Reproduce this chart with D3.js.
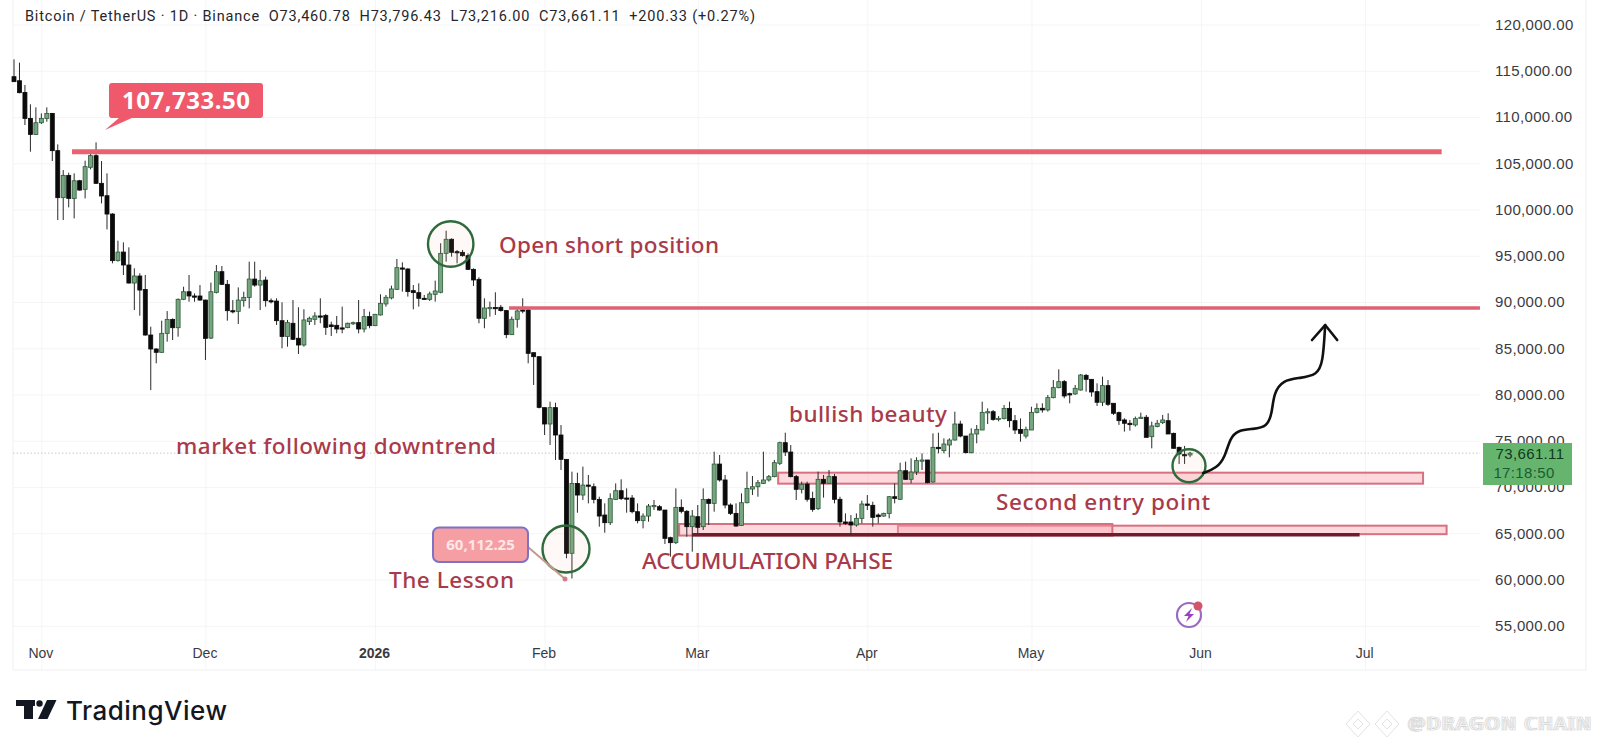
<!DOCTYPE html>
<html>
<head>
<meta charset="utf-8">
<title>BTC / USDT 1D</title>
<script src="https://cdn.jsdelivr.net/npm/d3@7"></script>
<style>
    html, body { margin: 0; padding: 0; background: #fff; }
    svg { display: block; }
    text { font-family: "Noto Sans", "Open Sans", sans-serif; }
</style>
</head>
<body>
<div id="chart"></div>
<script>
// Daily candles, prices in thousands of USDT, first candle is 27 Oct 2025
const firstDay = Date.UTC(2025, 9, 27);

const opens = [
    114.36, 113.92, 112.66, 109.85, 108.12, 109.38, 109.85, 110.39, 106.36, 101.28,
    103.69, 101.2, 103.11, 102.18, 104.56, 105.82, 102.83, 101.49, 99.51, 94.47,
    95.4, 94.0, 92.05, 92.81, 91.36, 86.43, 84.92, 84.56, 86.61, 88.12,
    87.22, 90.29, 91.11, 90.65, 90.65, 90.21, 86.1, 91.04, 93.28, 91.91,
    89.06, 88.99, 90.14, 90.5, 92.48, 91.83, 92.37, 90.14, 90.1, 87.98,
    86.26, 87.7, 86.08, 85.35, 87.88, 88.13, 88.49, 88.53, 87.52, 87.48,
    87.2, 87.23, 87.7, 87.77, 87.08, 88.42, 87.44, 88.6, 89.79, 90.44,
    91.37, 93.68, 93.57, 91.23, 91.01, 90.4, 90.29, 90.83, 91.05, 95.26,
    96.78, 95.44, 95.37, 95.01, 93.53, 92.45, 88.24, 89.35, 89.4, 89.43,
    89.07, 86.47, 88.13, 89.14, 89.14, 84.52, 84.09, 78.58, 76.81, 78.58,
    75.62, 72.99, 62.83, 70.39, 69.13, 70.21, 70.03, 68.66, 66.97, 66.14,
    68.66, 69.6, 68.81, 68.81, 67.33, 66.36, 66.86, 67.94, 67.87, 67.51,
    64.52, 63.98, 67.8, 67.37, 65.71, 66.79, 65.71, 68.66, 68.23, 72.48,
    70.76, 68.05, 67.15, 65.85, 68.3, 69.78, 70.03, 70.39, 70.76, 71.12,
    72.56, 74.79, 73.78, 71.12, 69.75, 70.32, 68.77, 67.66, 70.83, 70.4,
    71.12, 68.67, 66.22, 66.22, 65.89, 66.61, 68.16, 68.02, 66.97, 66.86,
    67.15, 68.95, 68.67, 71.76, 70.83, 71.62, 72.85, 72.92, 70.54, 74.29,
    73.93, 74.54, 75.08, 76.81, 75.51, 73.71, 75.73, 76.16, 78.07, 78.14,
    77.31, 77.39, 78.5, 77.17, 76.23, 75.51, 76.16, 78.07, 78.51, 78.33,
    79.66, 80.74, 81.39, 80.09, 80.06, 80.49, 82.07, 81.64, 80.31, 79.16,
    80.96, 79.05, 78.04, 77.25, 76.89, 76.71, 77.5, 77.54, 75.44, 76.53,
    76.96, 77.17, 75.8, 74.29, 73.5, 73.46
];

const highs = [
    116.23, 115.87, 113.46, 111.37, 111.04, 110.39, 111.04, 110.44, 107.04, 104.27,
    103.98, 103.91, 103.2, 105.28, 106.43, 107.26, 105.24, 103.91, 99.6, 96.63,
    96.45, 95.91, 93.64, 93.1, 92.92, 87.33, 85.0, 87.98, 89.02, 88.23,
    90.39, 91.65, 92.92, 90.93, 91.83, 90.25, 92.09, 94.0, 93.89, 92.38,
    90.21, 91.58, 91.11, 94.36, 94.36, 93.46, 92.74, 90.39, 90.4, 89.97,
    88.06, 90.22, 89.43, 89.21, 88.42, 88.89, 90.4, 88.71, 87.87, 88.49,
    89.5, 87.77, 87.88, 90.22, 89.25, 88.96, 88.71, 90.83, 90.76, 91.77,
    94.65, 94.29, 93.64, 91.84, 92.02, 90.76, 91.12, 92.31, 96.35, 97.71,
    96.89, 95.62, 95.62, 95.26, 93.64, 92.67, 90.4, 90.04, 91.05, 89.68,
    89.14, 88.42, 89.32, 90.4, 89.32, 84.52, 84.09, 78.58, 79.22, 79.11,
    76.7, 72.99, 71.66, 71.55, 72.2, 71.3, 70.39, 68.95, 68.23, 69.31,
    70.39, 70.83, 69.85, 69.13, 68.23, 67.15, 68.16, 68.59, 68.05, 67.51,
    64.63, 69.85, 68.66, 67.51, 67.51, 68.05, 69.85, 68.77, 73.82, 73.46,
    71.3, 68.23, 68.23, 69.31, 71.66, 71.19, 70.76, 73.82, 71.3, 72.92,
    74.9, 75.87, 74.54, 71.3, 70.58, 70.58, 69.49, 71.66, 71.3, 71.84,
    71.4, 68.95, 67.15, 66.97, 67.15, 68.52, 69.13, 68.41, 67.15, 67.22,
    69.03, 70.4, 72.63, 72.74, 73.1, 73.21, 73.64, 72.92, 75.8, 75.87,
    75.26, 75.26, 78.14, 77.17, 75.51, 76.34, 76.7, 79.22, 78.5, 78.32,
    77.68, 78.86, 79.22, 77.78, 77.42, 76.52, 78.68, 79.04, 79.05, 79.95,
    81.57, 82.72, 81.57, 80.2, 81.03, 82.22, 82.22, 81.64, 81.21, 81.93,
    81.57, 79.05, 78.15, 77.43, 77.25, 77.61, 78.04, 77.79, 77.07, 77.25,
    77.79, 77.97, 75.88, 74.36, 74.44, 73.8
];

const lows = [
    113.82, 112.56, 109.13, 106.25, 108.05, 109.24, 109.49, 105.24, 98.86, 98.86,
    100.23, 99.04, 102.05, 101.2, 104.34, 102.75, 100.66, 97.85, 94.18, 94.36,
    92.92, 92.01, 89.13, 88.52, 86.36, 80.48, 83.37, 84.5, 85.71, 85.89,
    86.25, 90.21, 90.03, 90.03, 90.14, 83.73, 86.0, 90.93, 91.83, 87.98,
    88.77, 87.62, 89.49, 89.31, 91.65, 89.13, 89.49, 89.85, 87.52, 84.99,
    85.17, 85.89, 84.38, 85.17, 87.52, 87.52, 87.7, 86.44, 86.33, 86.62,
    86.62, 87.16, 87.52, 86.62, 86.72, 87.16, 87.4, 88.53, 89.5, 90.29,
    91.3, 91.12, 90.58, 89.21, 89.5, 90.22, 90.11, 90.04, 90.94, 94.36,
    94.9, 94.18, 94.9, 93.46, 91.73, 87.7, 87.16, 88.42, 88.6, 88.96,
    86.08, 86.44, 87.23, 88.78, 83.37, 81.03, 78.5, 75.62, 74.54, 72.92,
    71.84, 62.29, 60.11, 67.22, 68.59, 68.23, 68.23, 65.71, 65.06, 65.89,
    68.59, 68.59, 67.22, 67.15, 66.07, 65.53, 66.25, 67.51, 67.44, 63.84,
    62.47, 63.84, 67.15, 64.63, 63.01, 64.99, 65.35, 65.89, 67.33, 70.58,
    67.69, 66.97, 65.71, 65.78, 68.23, 69.13, 68.95, 70.32, 70.58, 71.05,
    72.38, 73.35, 71.04, 68.59, 69.31, 68.41, 67.33, 67.51, 68.85, 70.32,
    68.23, 65.71, 65.89, 64.81, 65.71, 66.07, 67.51, 65.71, 66.07, 66.79,
    66.61, 68.23, 68.59, 70.76, 70.4, 71.3, 71.84, 70.4, 70.47, 73.64,
    73.64, 73.21, 75.01, 75.37, 73.64, 73.64, 74.72, 76.16, 76.81, 77.17,
    77.1, 77.31, 76.45, 75.73, 74.9, 75.26, 76.16, 77.96, 78.04, 78.15,
    79.59, 80.67, 79.59, 79.05, 79.95, 80.42, 80.31, 79.77, 78.76, 78.76,
    78.76, 77.79, 76.71, 75.99, 76.09, 76.53, 77.43, 75.37, 74.18, 76.45,
    76.81, 75.73, 74.18, 72.49, 72.49, 73.22
];

const closes = [
    113.82, 112.63, 109.85, 108.12, 109.38, 109.85, 110.39, 106.36, 101.28, 103.69,
    101.2, 103.11, 102.1, 104.63, 105.82, 102.83, 101.46, 99.51, 94.47, 95.4,
    94.0, 92.05, 92.81, 91.29, 86.43, 84.92, 84.56, 86.61, 88.12, 87.22,
    90.29, 91.11, 90.65, 90.55, 90.21, 86.07, 91.11, 93.28, 91.91, 89.06,
    88.98, 90.21, 90.5, 92.48, 91.83, 92.3, 90.14, 90.07, 87.98, 86.26,
    87.77, 85.97, 85.35, 88.06, 88.24, 88.49, 88.42, 87.26, 87.34, 87.08,
    87.08, 87.7, 87.77, 87.08, 88.42, 87.44, 88.67, 89.86, 90.51, 91.41,
    93.71, 93.57, 91.12, 91.01, 90.4, 90.29, 90.87, 91.19, 95.26, 96.78,
    95.37, 95.34, 95.01, 93.53, 92.38, 88.24, 89.35, 89.4, 89.35, 89.07,
    86.47, 88.13, 89.03, 89.07, 84.45, 84.09, 78.61, 76.81, 78.58, 75.62,
    72.99, 62.83, 70.39, 69.13, 70.21, 70.11, 68.66, 66.86, 66.14, 68.74,
    69.6, 68.74, 68.7, 67.33, 66.36, 66.86, 67.94, 68.0, 67.51, 64.45,
    63.98, 67.8, 67.37, 65.71, 66.86, 65.64, 68.66, 68.23, 72.48, 70.76,
    68.05, 67.15, 65.78, 68.3, 69.85, 70.03, 70.47, 70.76, 71.12, 72.63,
    74.79, 73.78, 71.12, 69.75, 70.29, 68.67, 67.58, 70.83, 70.4, 71.12,
    68.67, 66.22, 66.07, 65.89, 66.61, 68.16, 68.02, 66.72, 66.79, 67.15,
    68.95, 68.77, 71.76, 70.83, 71.62, 72.85, 72.92, 70.47, 74.29, 74.14,
    74.65, 75.08, 76.81, 75.51, 73.71, 75.73, 76.23, 78.07, 78.14, 77.31,
    77.42, 78.5, 77.17, 76.16, 75.8, 76.23, 78.07, 78.5, 78.33, 79.66,
    80.74, 81.39, 79.84, 79.95, 80.67, 82.11, 81.64, 80.27, 79.16, 80.96,
    78.94, 77.97, 77.17, 76.89, 76.74, 77.39, 77.54, 75.37, 76.6, 76.89,
    77.25, 75.73, 74.18, 73.57, 73.46, 73.66
];

const priceTicks = [55, 60, 65, 70, 75, 80, 85, 90, 95, 100, 105, 110, 115, 120];
const monthTicks = [
    Date.UTC(2025, 10, 1), Date.UTC(2025, 11, 1), Date.UTC(2026, 0, 1), Date.UTC(2026, 1, 1),
    Date.UTC(2026, 2, 1), Date.UTC(2026, 3, 1), Date.UTC(2026, 4, 1), Date.UTC(2026, 5, 1),
    Date.UTC(2026, 6, 1)
];
const monthLabels = ['Nov', 'Dec', '2026', 'Feb', 'Mar', 'Apr', 'May', 'Jun', 'Jul'];

// Drawn levels and zones: [first day index, last day index, price]
const redLevels = [[10.6, 261, 106.25, 5, '#e8626f'], [90.5, 268, 89.35, 3.4, '#dd6272']];
const zones = [
    [139.7, 257.6, 71.55, 70.36],
    [161.6, 261.9, 65.82, 64.9],
    [121.6, 200.8, 66.0, 64.75]
];
const darkLevel = [124, 246, 64.85];
const lastPrice = 73.66;

// Hand drawn arrow, day index and price
const arrowDays = [217.4, 219.9, 221.4, 222.3, 223.8, 226.5, 229.1, 230.0, 230.3, 232.0, 235.1, 238.2, 239.3, 239.7];
const arrowPrices = [71.51, 72.05, 73.24, 75.3, 76.16, 76.27, 76.49, 78.0, 80.16, 81.57, 81.78, 82.11, 83.41, 87.51];
const arrowHeadDays = [237.3, 239.7, 241.9];
const arrowHeadPrices = [85.89, 87.51, 85.89];

const notes = [
    ['Open short position', 499, 245, 719],
    ['market following downtrend', 176, 446, 496],
    ['bullish beauty', 789, 414, 947],
    ['Second entry point', 996, 502, 1210],
    ['ACCUMULATION PAHSE', 642, 561, 893],
    ['The Lesson', 389, 580, 514]
];

const width = 1600;
const height = 750;
const pane = { left: 13, right: 1480, top: 0, bottom: 670 };
const dayMs = 86400000;
const dayAt = i => firstDay + i * dayMs;

const x = d3.scaleUtc()
    .domain([dayAt(0), dayAt(240)])
    .range([14, 14 + 240 * 5.47]);
const y = d3.scaleLinear()
    .domain([55, 120])
    .range([625.75, 24.5]);

const svg = d3.select('#chart').append('svg')
    .attr('width', width)
    .attr('height', height)
    .attr('viewBox', `0 0 ${width} ${height}`);

// Grid and axes
const gridColor = '#f5f5f6';
const yAxis = svg.append('g')
    .attr('transform', `translate(${pane.right},0)`)
    .call(d3.axisLeft(y).tickValues(priceTicks).tickSize(pane.right - pane.left).tickFormat(''));
yAxis.select('.domain').remove();
yAxis.selectAll('line').attr('stroke', gridColor);

const xAxis = svg.append('g')
    .attr('transform', `translate(0,${pane.bottom})`)
    .call(d3.axisTop(x).tickValues(monthTicks).tickSize(pane.bottom).tickFormat(''));
xAxis.select('.domain').remove();
xAxis.selectAll('line').attr('stroke', gridColor);

svg.append('path')
    .attr('d', `M${pane.left},0V${pane.bottom}H1586V0`)
    .attr('fill', 'none')
    .attr('stroke', '#f0f0f1');

const priceLabels = svg.append('g')
    .attr('transform', 'translate(1495,0)')
    .call(d3.axisRight(y).tickValues(priceTicks).tickSize(0).tickPadding(0)
        .tickFormat(d => d3.format(',.2f')(d * 1000)));
priceLabels.select('.domain').remove();
priceLabels.selectAll('text')
    .attr('fill', '#3b3b3f')
    .style('font-family', '"Liberation Sans", sans-serif')
    .attr('font-size', 15)
    .attr('letter-spacing', 0.35);

const dateLabels = svg.append('g')
    .attr('transform', 'translate(-1,653)')
    .call(d3.axisBottom(x).tickValues(monthTicks).tickSize(0).tickPadding(0)
        .tickFormat((d, i) => monthLabels[i]));
dateLabels.select('.domain').remove();
dateLabels.selectAll('text')
    .attr('dy', '0.35em')
    .attr('fill', '#3b3b3f')
    .style('font-family', '"Liberation Sans", sans-serif')
    .attr('font-size', 14)
    .attr('font-weight', (d, i) => monthLabels[i] === '2026' ? 700 : 400);

// Last price dotted line
svg.append('line')
    .attr('x1', pane.left)
    .attr('x2', pane.right)
    .attr('y1', y(lastPrice))
    .attr('y2', y(lastPrice))
    .attr('stroke', '#c9c9c9')
    .attr('stroke-width', 1)
    .attr('stroke-dasharray', '1.5 2');

// Pink zones under the candles
svg.selectAll('.zone')
    .data(zones)
    .enter()
    .append('rect')
    .attr('class', 'zone')
    .attr('x', d => x(dayAt(d[0])))
    .attr('y', d => y(d[2]))
    .attr('width', d => x(dayAt(d[1])) - x(dayAt(d[0])))
    .attr('height', d => y(d[3]) - y(d[2]))
    .attr('fill', 'rgba(250,165,176,0.42)')
    .attr('stroke', '#d8707f')
    .attr('stroke-width', 2);

svg.append('line')
    .attr('x1', x(dayAt(darkLevel[0])))
    .attr('x2', x(dayAt(darkLevel[1])))
    .attr('y1', y(darkLevel[2]))
    .attr('y2', y(darkLevel[2]))
    .attr('stroke', '#6f1d2b')
    .attr('stroke-width', 3.5);

// Candles
const candles = svg.append('g')
    .selectAll('g')
    .data(opens.map((o, i) => ({ i, o, h: highs[i], l: lows[i], c: closes[i] })))
    .enter()
    .append('g');

candles.append('line')
    .attr('x1', d => x(dayAt(d.i)))
    .attr('x2', d => x(dayAt(d.i)))
    .attr('y1', d => y(d.h))
    .attr('y2', d => y(d.l))
    .attr('stroke', '#2a2a2a')
    .attr('stroke-width', 1);

candles.append('rect')
    .attr('x', d => x(dayAt(d.i)) - 2)
    .attr('y', d => y(Math.max(d.o, d.c)))
    .attr('width', 4)
    .attr('height', d => Math.max(1.2, Math.abs(y(d.o) - y(d.c))))
    .attr('fill', d => d.c >= d.o ? '#76a67f' : '#0b0b0b')
    .attr('stroke', d => d.c >= d.o ? '#2c5a38' : '#0b0b0b')
    .attr('stroke-width', 0.8);

// Red levels go over the candles
svg.selectAll('.level')
    .data(redLevels)
    .enter()
    .append('line')
    .attr('class', 'level')
    .attr('x1', d => x(dayAt(d[0])))
    .attr('x2', d => x(dayAt(d[1])))
    .attr('y1', d => y(d[2]))
    .attr('y2', d => y(d[2]))
    .attr('stroke', d => d[4])
    .attr('stroke-width', d => d[3]);

// Price callout
svg.append('path')
    .attr('d', 'M120,117L105,130L134,117Z')
    .attr('fill', '#f0586b');
svg.append('rect')
    .attr('x', 109)
    .attr('y', 83)
    .attr('width', 154)
    .attr('height', 35)
    .attr('rx', 3)
    .attr('fill', '#f0586b');
svg.append('text')
    .attr('x', 186)
    .attr('y', 109)
    .attr('text-anchor', 'middle')
    .attr('fill', '#fff')
    .attr('font-size', 24)
    .attr('font-weight', 700)
    .attr('textLength', 128)
    .text('107,733.50');

// Circles
const circles = [[450.7, 244, 22.7], [566, 549, 23.5], [1189, 465.7, 16.5]];
svg.selectAll('.ring')
    .data(circles)
    .enter()
    .append('circle')
    .attr('class', 'ring')
    .attr('cx', d => d[0])
    .attr('cy', d => d[1])
    .attr('r', d => d[2])
    .attr('fill', 'rgba(240,150,130,0.07)')
    .attr('stroke', '#2f6a3c')
    .attr('stroke-width', 2.4);

// Low callout with its connector
svg.append('line')
    .attr('x1', 528)
    .attr('y1', 547)
    .attr('x2', 565)
    .attr('y2', 579)
    .attr('stroke', '#c59a8c')
    .attr('stroke-width', 2);
svg.append('circle')
    .attr('cx', 565)
    .attr('cy', 579)
    .attr('r', 2.5)
    .attr('fill', '#d67a88');
svg.append('rect')
    .attr('x', 433)
    .attr('y', 527.5)
    .attr('width', 95)
    .attr('height', 34.5)
    .attr('rx', 6)
    .attr('fill', '#f59ea4')
    .attr('stroke', '#7d72c4')
    .attr('stroke-width', 2);
svg.append('text')
    .attr('x', 480.5)
    .attr('y', 550)
    .attr('text-anchor', 'middle')
    .attr('fill', '#fde6e6')
    .attr('font-size', 15)
    .attr('font-weight', 700)
    .text('60,112.25');

// Arrow
const arrowLine = d3.line()
    .x(d => x(dayAt(d[0])))
    .y(d => y(d[1]));
svg.append('path')
    .attr('d', arrowLine.curve(d3.curveBasis)(arrowDays.map((d, i) => [d, arrowPrices[i]])))
    .attr('fill', 'none')
    .attr('stroke', '#111')
    .attr('stroke-width', 2.6)
    .attr('stroke-linecap', 'round');
svg.append('path')
    .attr('d', arrowLine.curve(d3.curveLinear)(arrowHeadDays.map((d, i) => [d, arrowHeadPrices[i]])))
    .attr('fill', 'none')
    .attr('stroke', '#111')
    .attr('stroke-width', 2.6)
    .attr('stroke-linecap', 'round')
    .attr('stroke-linejoin', 'round');

// Annotations
svg.selectAll('.note')
    .data(notes)
    .enter()
    .append('text')
    .attr('class', 'note')
    .attr('x', d => d[1])
    .attr('y', d => d[2])
    .attr('dy', '0.35em')
    .attr('fill', '#a93a4a')
    .attr('font-size', 22.5)
    .attr('font-weight', 500)
    .attr('textLength', d => d[3] - d[1])
    .attr('lengthAdjust', 'spacing')
    .text(d => d[0]);

// Last price tag
svg.append('rect')
    .attr('x', 1483)
    .attr('y', 443)
    .attr('width', 89)
    .attr('height', 42)
    .attr('fill', '#66b56f');
svg.append('text')
    .attr('x', 1530)
    .attr('y', 454)
    .attr('dy', '0.35em')
    .attr('text-anchor', 'middle')
    .attr('fill', '#0f3a1c')
    .style('font-family', '"Liberation Sans", sans-serif')
    .attr('font-size', 15)
    .attr('letter-spacing', 0.35)
    .text('73,661.11');
svg.append('text')
    .attr('x', 1524)
    .attr('y', 473)
    .attr('dy', '0.35em')
    .attr('text-anchor', 'middle')
    .attr('fill', '#1b5c30')
    .style('font-family', '"Liberation Sans", sans-serif')
    .attr('font-size', 15)
    .attr('letter-spacing', 0.35)
    .text('17:18:50');

// Header
svg.append('text')
    .attr('x', 25)
    .attr('y', 16)
    .attr('dy', '0.35em')
    .attr('fill', '#26262a')
    .style('font-family', 'Roboto, sans-serif')
    .attr('font-size', 14.5)
    .attr('textLength', 730)
    .attr('xml:space', 'preserve')
    .text('Bitcoin / TetherUS \u00b7 1D \u00b7 Binance  O73,460.78  H73,796.43  L73,216.00  C73,661.11  +200.33 (+0.27%)');

// Lightning badge
const badge = svg.append('g').attr('transform', 'translate(1189,615)');
badge.append('circle')
    .attr('r', 12)
    .attr('fill', 'none')
    .attr('stroke', '#9a6cc0')
    .attr('stroke-width', 2.2);
badge.append('path')
    .attr('d', 'M3,-7L-5,1L-0.5,1L-3,7L5,-1L0.5,-1Z')
    .attr('fill', '#9a3fc4');
badge.append('circle')
    .attr('cx', 9)
    .attr('cy', -9)
    .attr('r', 4.5)
    .attr('fill', '#d2566a');

// TradingView mark
const logo = svg.append('g').attr('transform', 'translate(16,700)').attr('fill', '#131722');
logo.append('path').attr('d', 'M0,0H19V6H17V19H8V6H0Z');
logo.append('circle').attr('cx', 23.5).attr('cy', 3.5).attr('r', 3.2);
logo.append('path').attr('d', 'M31,0H40.5L31.5,19H22Z');
svg.append('text')
    .attr('x', 66)
    .attr('y', 711)
    .attr('dy', '0.35em')
    .attr('fill', '#131722')
    .style('font-family', 'Inter, sans-serif')
    .attr('font-size', 26)
    .attr('font-weight', 500)
    .attr('textLength', 161)
    .text('TradingView');

// Ghosted watermark
const ghost = svg.append('g').attr('fill', '#fff').attr('stroke', '#cfcfcf').attr('stroke-width', 0.6);
ghost.selectAll('path')
    .data([1358, 1387])
    .enter()
    .append('path')
    .attr('d', d => `M${d},711l12,13l-12,13l-12,-13Z M${d},719l5,5l-5,5l-5,-5Z`);
ghost.selectAll('text')
    .data([1407, 1410])
    .enter()
    .append('text')
    .attr('x', d => d)
    .attr('y', 724)
    .attr('dy', '0.35em')
    .attr('font-size', 18)
    .attr('textLength', 182)
    .text('@DRAGON CHAIN');
</script>
</body>
</html>
